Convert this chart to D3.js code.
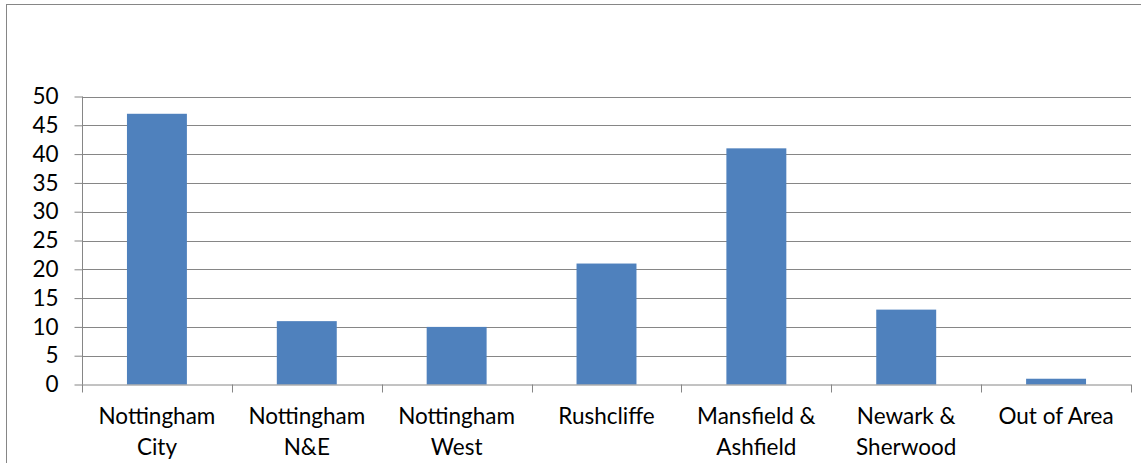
<!DOCTYPE html>
<html>
<head>
<meta charset="utf-8">
<script src="https://cdn.jsdelivr.net/npm/d3@7"></script>
<style>
  html, body { margin: 0; padding: 0; background: #fff; }
  svg { display: block; }
  text { font-family: Lato, "Open Sans", sans-serif; fill: #000; }
</style>
</head>
<body>
<svg id="chart" width="1141" height="463"></svg>
<script>
// Referrals by locality
const categories = [
  ["Nottingham", "City"],
  ["Nottingham", "N&E"],
  ["Nottingham", "West"],
  ["Rushcliffe"],
  ["Mansfield &", "Ashfield"],
  ["Newark &", "Sherwood"],
  ["Out of Area"]
];
const values = [47, 11, 10, 21, 41, 13, 1];
const yTicks = [0, 5, 10, 15, 20, 25, 30, 35, 40, 45, 50];

const svg = d3.select("#chart");
const plotLeft = 82, plotRight = 1131, plotTop = 96.5, plotBottom = 384.5;
const fontSize = 22.5;

// outer chart frame (extends past the visible page on the right and bottom)
svg.append("rect")
  .attr("x", 6.5).attr("y", 4.5)
  .attr("width", 1200).attr("height", 600)
  .attr("fill", "none").attr("stroke", "#868686").attr("stroke-width", 1);

const x = d3.scaleBand()
  .domain(d3.range(categories.length))
  .range([plotLeft, plotRight])
  .paddingInner(0.6).paddingOuter(0.3);
const band = d3.scaleBand().domain(d3.range(categories.length)).range([plotLeft, plotRight]);

const y = d3.scaleLinear().domain([0, 50]).range([plotBottom, plotTop]);

// horizontal gridlines
svg.append("g")
  .selectAll("line")
  .data(yTicks.filter(d => d > 0))
  .join("line")
  .attr("x1", plotLeft).attr("x2", plotRight)
  .attr("y1", d => Math.round(y(d)) + 0.5).attr("y2", d => Math.round(y(d)) + 0.5)
  .attr("stroke", "#868686").attr("stroke-width", 1);

// bars
svg.append("g")
  .selectAll("rect")
  .data(values)
  .join("rect")
  .attr("x", (d, i) => x(i))
  .attr("width", x.bandwidth())
  .attr("y", d => y(d))
  .attr("height", d => y(0) - y(d))
  .attr("fill", "#4F81BD");

// y axis
const yAxis = d3.axisLeft(y).tickValues(yTicks).tickSize(8).tickPadding(16);
const gy = svg.append("g").attr("transform", `translate(${plotLeft + 0.5},0)`).call(yAxis);
gy.select(".domain").attr("stroke", "#868686").attr("d", `M0,${plotTop}V${plotBottom}`);
gy.selectAll(".tick line").attr("stroke", "#868686");
gy.selectAll(".tick text")
  .attr("font-size", fontSize).attr("font-family", "Lato, 'Open Sans', sans-serif").attr("fill", "#000");

// x axis baseline and category ticks
const gx = svg.append("g");
gx.append("line")
  .attr("x1", plotLeft).attr("x2", plotRight)
  .attr("y1", plotBottom + 0.5).attr("y2", plotBottom + 0.5)
  .attr("stroke", "#868686");
gx.selectAll("line.tick")
  .data(d3.range(categories.length + 1))
  .join("line")
  .attr("class", "tick")
  .attr("x1", i => Math.round(plotLeft + i * band.step()) + 0.5)
  .attr("x2", i => Math.round(plotLeft + i * band.step()) + 0.5)
  .attr("y1", plotBottom).attr("y2", plotBottom + 8)
  .attr("stroke", "#868686");

// category labels
gx.selectAll("text")
  .data(categories)
  .join("text")
  .attr("text-anchor", "middle")
  .attr("font-size", fontSize)
  .attr("transform", (d, i) => `translate(${band(i) + band.bandwidth() / 2},0)`)
  .selectAll("tspan")
  .data(d => d)
  .join("tspan")
  .attr("x", 0)
  .attr("y", (d, j) => 424 + j * 31)
  .text(d => d);
</script>
</body>
</html>
